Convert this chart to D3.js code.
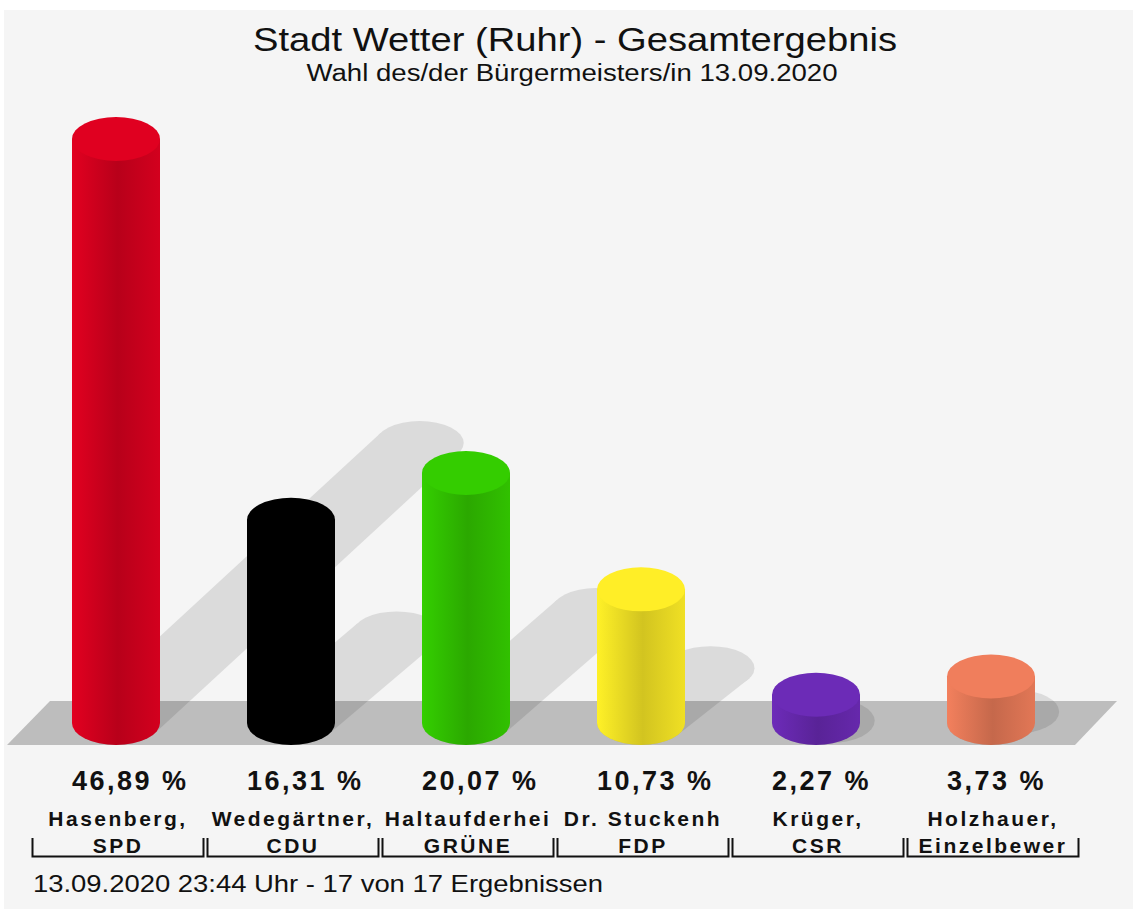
<!DOCTYPE html>
<html>
<head>
<meta charset="utf-8">
<script src="https://cdn.jsdelivr.net/npm/d3@7"></script>
<style>
  body { margin: 0; background: #fff; }
  text { font-family: "Liberation Sans", Arial, sans-serif; fill: #111; }
</style>
</head>
<body>
<svg id="chart" width="1133" height="909"></svg>
<script>
// data
const candidates = ["Hasenberg,", "Wedegärtner,", "Haltaufderhei", "Dr. Stuckenh", "Krüger,", "Holzhauer,"];
const parties = ["SPD", "CDU", "GRÜNE", "FDP", "CSR", "Einzelbewer"];
const shares = [46.89, 16.31, 20.07, 10.73, 2.27, 3.73];
const barColors = ["#dc001f", "#000000", "#33c900", "#fbea26", "#6a2ab4", "#ec7c5a"];

const titleText = "Stadt Wetter (Ruhr) - Gesamtergebnis";
const subtitleText = "Wahl des/der Bürgermeisters/in 13.09.2020";
const footerText = "13.09.2020 23:44 Uhr - 17 von 17 Ergebnissen";

const W = 1133, H = 909;
const svg = d3.select('#chart');
const defs = svg.append('defs');

const data = candidates.map((c, i) => ({name: c, party: parties[i], value: shares[i], color: barColors[i]}));

// background
svg.append('rect').attr('x', 4).attr('y', 10).attr('width', W - 4).attr('height', H - 10).attr('fill', '#f5f5f5');

// scales
const x = d3.scaleBand()
  .domain(candidates)
  .range([32, 32 + 175 * candidates.length]);

const baseY = 723;
const y = d3.scaleLinear()
  .domain([0, 50])
  .range([baseY, baseY - 12.455 * 50]);

const rx = 44, ry = 22;
const cx = d => x(d.name) + 84;

// floor
svg.append('path')
  .attr('d', 'M7,745 L50,701 L1117,701 L1075,745 Z')
  .attr('fill', '#bdbdbd');

// shadows, one group so overlaps don't stack
const shadowG = svg.append('g').attr('opacity', 0.1);
const tx = rx * Math.cos(Math.atan(ry / rx)), ty = ry * Math.sin(Math.atan(ry / rx));
data.forEach(d => {
  let h = baseY - y(d.value);
  let sx = 0.52 * h, sy = Math.max(0.5 * h - 12, 0);
  let c = cx(d);
  shadowG.append('ellipse').attr('cx', c).attr('cy', baseY).attr('rx', rx).attr('ry', ry).attr('fill', '#000');
  shadowG.append('ellipse').attr('cx', c + sx).attr('cy', baseY - sy).attr('rx', rx).attr('ry', ry).attr('fill', '#000');
  shadowG.append('path')
    .attr('d', `M${c + tx},${baseY + ty} L${c + tx + sx},${baseY + ty - sy} L${c - tx + sx},${baseY - ty - sy} L${c - tx},${baseY - ty} Z`)
    .attr('fill', '#000');
});

// bar gradients
data.forEach((d, i) => {
  let col = d3.color(d.color);
  let g = defs.append('linearGradient').attr('id', 'body' + i).attr('x1', 0).attr('x2', 1).attr('y1', 0).attr('y2', 0);
  g.append('stop').attr('offset', '0%').attr('stop-color', col.brighter(0.08));
  g.append('stop').attr('offset', '52%').attr('stop-color', col.darker(0.5));
  g.append('stop').attr('offset', '100%').attr('stop-color', col.darker(0.12));
});

// cylinders
const bars = svg.append('g').selectAll('g')
  .data(data)
  .enter()
  .append('g');

bars.append('path')
  .attr('d', d => {
    let l = cx(d) - rx, r = cx(d) + rx, t = y(d.value);
    return `M${l},${t} L${l},${baseY} A${rx},${ry} 0 0 0 ${r},${baseY} L${r},${t} Z`;
  })
  .attr('fill', (d, i) => `url(#body${i})`);

bars.append('ellipse')
  .attr('cx', d => cx(d))
  .attr('cy', d => y(d.value))
  .attr('rx', rx)
  .attr('ry', ry)
  .attr('fill', d => d3.color(d.color).brighter(0.05));

// percent labels
svg.append('g').selectAll('text')
  .data(data)
  .enter()
  .append('text')
  .attr('x', d => cx(d) - rx)
  .attr('y', 790)
  .attr('font-size', 27)
  .attr('font-weight', 'bold')
  .attr('letter-spacing', 2.5)
  .text(d => d3.format('.2f')(d.value).replace('.', ',') + ' %');

// names + parties
svg.append('g').selectAll('text')
  .data(data)
  .enter()
  .append('text')
  .attr('x', d => cx(d) + 2)
  .attr('y', 826)
  .attr('text-anchor', 'middle')
  .attr('font-size', 21)
  .attr('font-weight', 'bold')
  .attr('letter-spacing', 2.5)
  .text(d => d.name);

svg.append('g').selectAll('text')
  .data(data)
  .enter()
  .append('text')
  .attr('x', d => cx(d) + 2)
  .attr('y', 853)
  .attr('text-anchor', 'middle')
  .attr('font-size', 21)
  .attr('font-weight', 'bold')
  .attr('letter-spacing', 2.5)
  .text(d => d.party);

// brackets under each category
svg.append('g').selectAll('path')
  .data(data)
  .enter()
  .append('path')
  .attr('d', d => {
    let a = x(d.name) + 0.5, b = x(d.name) + 171.5;
    return `M${a},838 L${a},856.5 L${b},856.5 L${b},838`;
  })
  .attr('fill', 'none')
  .attr('stroke', '#111')
  .attr('stroke-width', 2);

// titles
svg.append('text')
  .attr('x', 575).attr('y', 51)
  .attr('text-anchor', 'middle')
  .attr('font-size', 33)
  .attr('textLength', 644).attr('lengthAdjust', 'spacingAndGlyphs')
  .text(titleText);

svg.append('text')
  .attr('x', 572).attr('y', 81)
  .attr('text-anchor', 'middle')
  .attr('font-size', 23)
  .attr('fill', '#222')
  .attr('textLength', 531).attr('lengthAdjust', 'spacingAndGlyphs')
  .text(subtitleText);

svg.append('text')
  .attr('x', 33).attr('y', 892)
  .attr('font-size', 24)
  .attr('fill', '#222')
  .attr('textLength', 570).attr('lengthAdjust', 'spacingAndGlyphs')
  .text(footerText);
</script>
</body>
</html>
